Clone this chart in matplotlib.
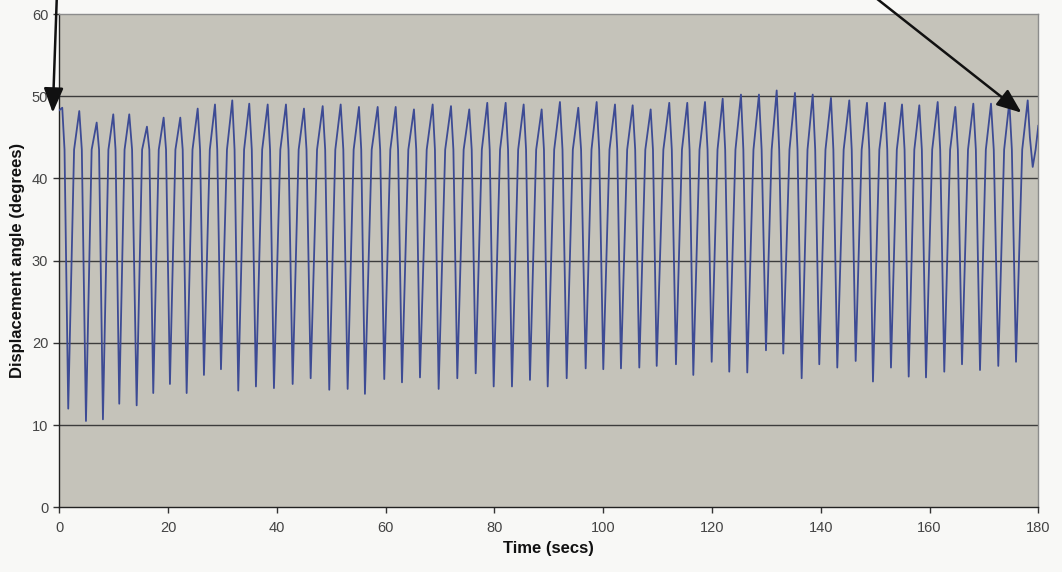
import matplotlib
matplotlib.use("Agg")
import matplotlib.pyplot as plt

# ---- data ----
peak_t = [0.55, 3.68, 6.88, 9.93, 12.87, 16.12, 19.19, 22.25, 25.45, 28.63,
          31.81, 34.93, 38.32, 41.68, 44.99, 48.43, 51.74, 55.10, 58.54, 61.85,
          65.21, 68.65, 72.02, 75.38, 78.69, 82.07, 85.38, 88.69, 92.05, 95.42,
          98.80, 102.17, 105.42, 108.73, 112.15, 115.46, 118.72, 121.97, 125.33, 128.64,
          131.90, 135.26, 138.52, 141.88, 145.25, 148.50, 151.81, 154.94, 158.12, 161.50,
          164.74, 168.05, 171.30, 174.67, 178.05]
peak_v = [48.6, 48.2, 46.8, 47.8, 47.8, 46.3, 47.4, 47.4, 48.5, 49.0,
          49.5, 49.1, 49.0, 49.0, 48.5, 48.8, 49.0, 48.7, 48.7, 48.7,
          48.4, 49.0, 48.8, 48.4, 49.2, 49.2, 49.0, 48.4, 49.3, 48.6,
          49.3, 49.0, 48.9, 48.4, 49.2, 49.2, 49.3, 49.7, 50.2, 50.2,
          50.7, 50.4, 50.2, 49.8, 49.5, 49.2, 49.2, 49.0, 48.9, 49.3,
          48.7, 49.1, 49.1, 49.3, 49.5]
trough_t = [1.65, 4.91, 8.03, 11.03, 14.23, 17.28, 20.35, 23.42, 26.60, 29.73,
            32.91, 36.16, 39.47, 42.91, 46.22, 49.64, 53.02, 56.20, 59.75, 63.01,
            66.32, 69.75, 73.18, 76.56, 79.87, 83.23, 86.54, 89.80, 93.29, 96.78,
            100.02, 103.27, 106.64, 109.84, 113.38, 116.57, 119.95, 123.18, 126.49, 129.93,
            133.11, 136.49, 139.73, 143.04, 146.42, 149.60, 152.91, 156.17, 159.35, 162.71,
            165.97, 169.28, 172.64, 175.90]
trough_v = [12.0, 10.5, 10.7, 12.6, 12.4, 13.9, 15.0, 13.9, 16.1, 16.8,
            14.2, 14.7, 14.5, 15.0, 15.7, 14.3, 14.4, 13.8, 15.6, 15.2,
            15.8, 14.4, 15.7, 16.3, 14.7, 14.7, 15.5, 14.7, 15.7, 16.9,
            16.8, 16.9, 17.0, 17.2, 17.4, 16.1, 17.7, 16.5, 16.4, 19.1,
            18.7, 15.7, 17.4, 17.0, 17.8, 15.3, 17.0, 15.9, 15.8, 16.5,
            17.4, 16.7, 17.2, 17.7]
shoulder_v = 43.5          # kink level on each rising stroke
knee_v = 43.5              # knee level on each falling stroke
start_t, start_v = 0.0, 48.3
tail_t = [178.45, 178.97, 179.5, 180.0]
tail_v = [45.0, 41.4, 43.5, 46.4]

# shape of one stroke (fractions of the peak-trough / trough-peak spans)
shoulder_frac = 0.53
knee_frac = 0.38

x_ticks = [0, 20, 40, 60, 80, 100, 120, 140, 160, 180]
y_ticks = [0, 10, 20, 30, 40, 50, 60]

# ---- assemble the trace from the read vertices ----
t = [start_t]
v = [start_v]
for i in range(len(peak_t)):
    t.append(peak_t[i]); v.append(peak_v[i])
    if i < len(trough_t):
        tk = peak_t[i] + knee_frac * (trough_t[i] - peak_t[i])
        t.append(tk); v.append(knee_v)
        t.append(trough_t[i]); v.append(trough_v[i])
        ts = trough_t[i] + shoulder_frac * (peak_t[i + 1] - trough_t[i])
        t.append(ts); v.append(shoulder_v)
t += tail_t
v += tail_v

# ---- figure ----
plt.rcParams['font.family'] = ['Liberation Sans', 'DejaVu Sans']
fig = plt.figure(figsize=(10.62, 5.72), dpi=100, facecolor='#f8f8f6')
ax = fig.add_axes([0.0558, 0.1131, 0.9219, 0.8624])
ax.set_facecolor('#c5c3ba')

for yv in y_ticks[1:-1]:
    ax.axhline(yv, color='#3c3c3c', lw=1.0, zorder=1)

ax.plot(t, v, color='#3d4b94', lw=1.3, zorder=3)

ax.set_xlim(0, 180)
ax.set_ylim(0, 60)
ax.set_xticks(x_ticks)
ax.set_yticks(y_ticks)
ax.tick_params(axis='both', direction='out', length=4, width=1, color='#333333',
               labelsize=10.5, labelcolor='#444444')
ax.tick_params(axis='y', pad=4)
ax.tick_params(axis='x', pad=6)

for side in ['left', 'bottom']:
    ax.spines[side].set_color('#222222')
    ax.spines[side].set_linewidth(1.0)
for side in ['top', 'right']:
    ax.spines[side].set_color('#8c8c8c')
    ax.spines[side].set_linewidth(1.0)

ax.set_xlabel('Time (secs)', fontsize=12, fontweight='bold', color='#111111', labelpad=4)
ax.set_ylabel('Displacement angle (degrees)', fontsize=12, fontweight='bold',
              color='#111111', labelpad=5)

# ---- annotation arrows (start outside the figure, as in the reference) ----
arrow = dict(arrowstyle='-|>,head_length=0.75,head_width=0.3', color='#111111',
             lw=1.8, mutation_scale=20, shrinkA=0, shrinkB=0)
ax.annotate('', xy=(-1.2, 48.0), xytext=(-0.42, 62.6), arrowprops=arrow,
            annotation_clip=False)
ax.annotate('', xy=(176.9, 48.0), xytext=(148.9, 62.6), arrowprops=arrow,
            annotation_clip=False)

fig.savefig('out.png', dpi=100, facecolor=fig.get_facecolor())
